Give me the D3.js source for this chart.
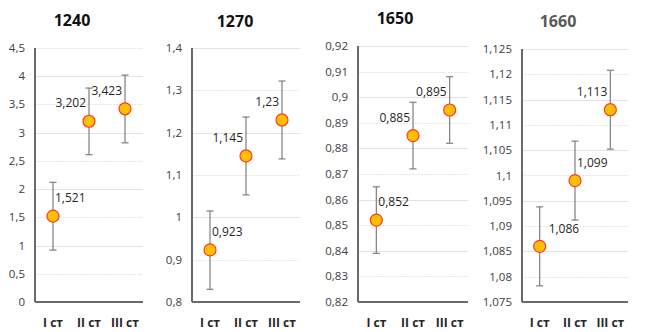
<!DOCTYPE html>
<html>
<head>
<meta charset="utf-8">
<script src="https://d3js.org/d3.v7.min.js"></script>
<style>
    body { margin: 0; background: white; }
    svg { display: block; font-family: "Open Sans", "Noto Sans", sans-serif; }
</style>
</head>
<body>
<svg></svg>
<script>
    const categories = ["I ст", "II ст", "III ст"];
    const titles = ["1240", "1270", "1650", "1660"];
    const values = [
        [1.521, 3.202, 3.423],
        [0.923, 1.145, 1.23],
        [0.852, 0.885, 0.895],
        [1.086, 1.099, 1.113]
    ];
    const errLow = [
        [0.92, 2.61, 2.82],
        [0.83, 1.053, 1.138],
        [0.839, 0.872, 0.882],
        [1.0782, 1.0912, 1.1052]
    ];
    const errHigh = [
        [2.12, 3.79, 4.02],
        [1.015, 1.237, 1.322],
        [0.865, 0.898, 0.908],
        [1.0938, 1.1068, 1.1208]
    ];
    const yDomains = [[0, 4.5], [0.8, 1.4], [0.82, 0.92], [1.075, 1.125]];
    const yTicks = [
        [0, 0.5, 1, 1.5, 2, 2.5, 3, 3.5, 4, 4.5],
        [0.8, 0.9, 1, 1.1, 1.2, 1.3, 1.4],
        [0.82, 0.83, 0.84, 0.85, 0.86, 0.87, 0.88, 0.89, 0.9, 0.91, 0.92],
        [1.075, 1.08, 1.085, 1.09, 1.095, 1.1, 1.105, 1.11, 1.115, 1.12, 1.125]
    ];
    // label side for each point: "r" = above-right, "l" = above-left
    const labelSide = [
        ["r", "l", "l"],
        ["r", "l", "l"],
        ["r", "l", "l"],
        ["r", "r", "l"]
    ];

    const width = 646, height = 332;
    const svg = d3.select("svg").attr("width", width).attr("height", height);

    // panel layout: axis x, right edge, top, bottom, title position
    const panels = [
        {left: 35, right: 143, top: 48, bottom: 302, titleX: 72, titleY: 26},
        {left: 192, right: 300, top: 48, bottom: 302, titleX: 235, titleY: 27},
        {left: 358, right: 468, top: 46, bottom: 302, titleX: 395, titleY: 24},
        {left: 522, right: 628, top: 49, bottom: 302, titleX: 558, titleY: 27}
    ];
    const gridColors = ["#ece3e5", "#e3e3e3", "#e3eae1", "#e3e3e3"];
    const fmt = v => String(v).replace(".", ",");

    panels.forEach((p, i) => {
        const g = svg.append("g");
        const x = d3.scalePoint()
            .domain(categories)
            .range([p.left, p.right])
            .padding(0.5);
        const y = d3.scaleLinear()
            .domain(yDomains[i])
            .range([p.bottom, p.top]);

        // gridlines
        g.selectAll(".grid")
            .data(yTicks[i].slice(1))
            .join("line")
            .attr("x1", p.left)
            .attr("x2", p.right)
            .attr("y1", d => Math.round(y(d)) + 0.5)
            .attr("y2", d => Math.round(y(d)) + 0.5)
            .attr("stroke", (d, j) => gridColors[j % gridColors.length])
            .attr("stroke-width", 1)
            .attr("stroke-dasharray", (d, j) => j % 2 ? null : "2,1");

        // y tick labels
        g.selectAll(".ytick")
            .data(yTicks[i])
            .join("text")
            .attr("x", p.left - 10)
            .attr("y", d => y(d))
            .attr("dy", "0.35em")
            .attr("text-anchor", "end")
            .attr("font-size", 11.5)
            .attr("fill", "#404040")
            .text(d => fmt(+d.toFixed(3)));

        // axes
        g.append("line")
            .attr("x1", p.left).attr("x2", p.left)
            .attr("y1", p.top).attr("y2", p.bottom)
            .attr("stroke", "#6a6a6a").attr("stroke-width", 2);
        g.append("line")
            .attr("x1", p.left).attr("x2", p.right)
            .attr("y1", p.bottom).attr("y2", p.bottom)
            .attr("stroke", "#6a6a6a").attr("stroke-width", 2);

        // x labels
        g.selectAll(".xlab")
            .data(categories)
            .join("text")
            .attr("x", d => x(d))
            .attr("y", 327)
            .attr("text-anchor", "middle")
            .attr("font-size", 12)
            .attr("font-weight", "bold")
            .attr("fill", "#262626")
            .text(d => d);

        // title
        g.append("text")
            .attr("x", p.titleX)
            .attr("y", p.titleY)
            .attr("text-anchor", "middle")
            .attr("font-size", 16)
            .attr("font-weight", "bold")
            .attr("fill", i === 3 ? "#595959" : "#111")
            .text(titles[i]);

        const pts = categories.map((c, j) => ({
            c, v: values[i][j], lo: errLow[i][j], hi: errHigh[i][j], side: labelSide[i][j]
        }));

        // error bars
        const eb = g.selectAll(".err").data(pts).join("g");
        eb.append("line")
            .attr("x1", d => x(d.c)).attr("x2", d => x(d.c))
            .attr("y1", d => y(d.lo)).attr("y2", d => y(d.hi))
            .attr("stroke", "#7f7f7f").attr("stroke-width", 1.2);
        ["lo", "hi"].forEach(k => {
            eb.append("line")
                .attr("x1", d => x(d.c) - 3.5).attr("x2", d => x(d.c) + 3.5)
                .attr("y1", d => y(d[k])).attr("y2", d => y(d[k]))
                .attr("stroke", "#7f7f7f").attr("stroke-width", 1.2);
        });

        // points
        g.selectAll(".pt")
            .data(pts)
            .join("circle")
            .attr("cx", d => x(d.c))
            .attr("cy", d => y(d.v))
            .attr("r", 6)
            .attr("fill", "#ffc000")
            .attr("stroke", "#ff3b1f")
            .attr("stroke-width", 1.2);

        // value labels
        g.selectAll(".vlab")
            .data(pts)
            .join("text")
            .attr("x", d => x(d.c) + (d.side === "r" ? (i === 3 && d.c === "I ст" ? 9 : 2) : -3))
            .attr("y", d => y(d.v) - 18)
            .attr("dy", "0.35em")
            .attr("text-anchor", d => d.side === "r" ? "start" : "end")
            .attr("font-size", 12)
            .attr("fill", "#262626")
            .text(d => fmt(d.v));
    });
</script>
</body>
</html>
